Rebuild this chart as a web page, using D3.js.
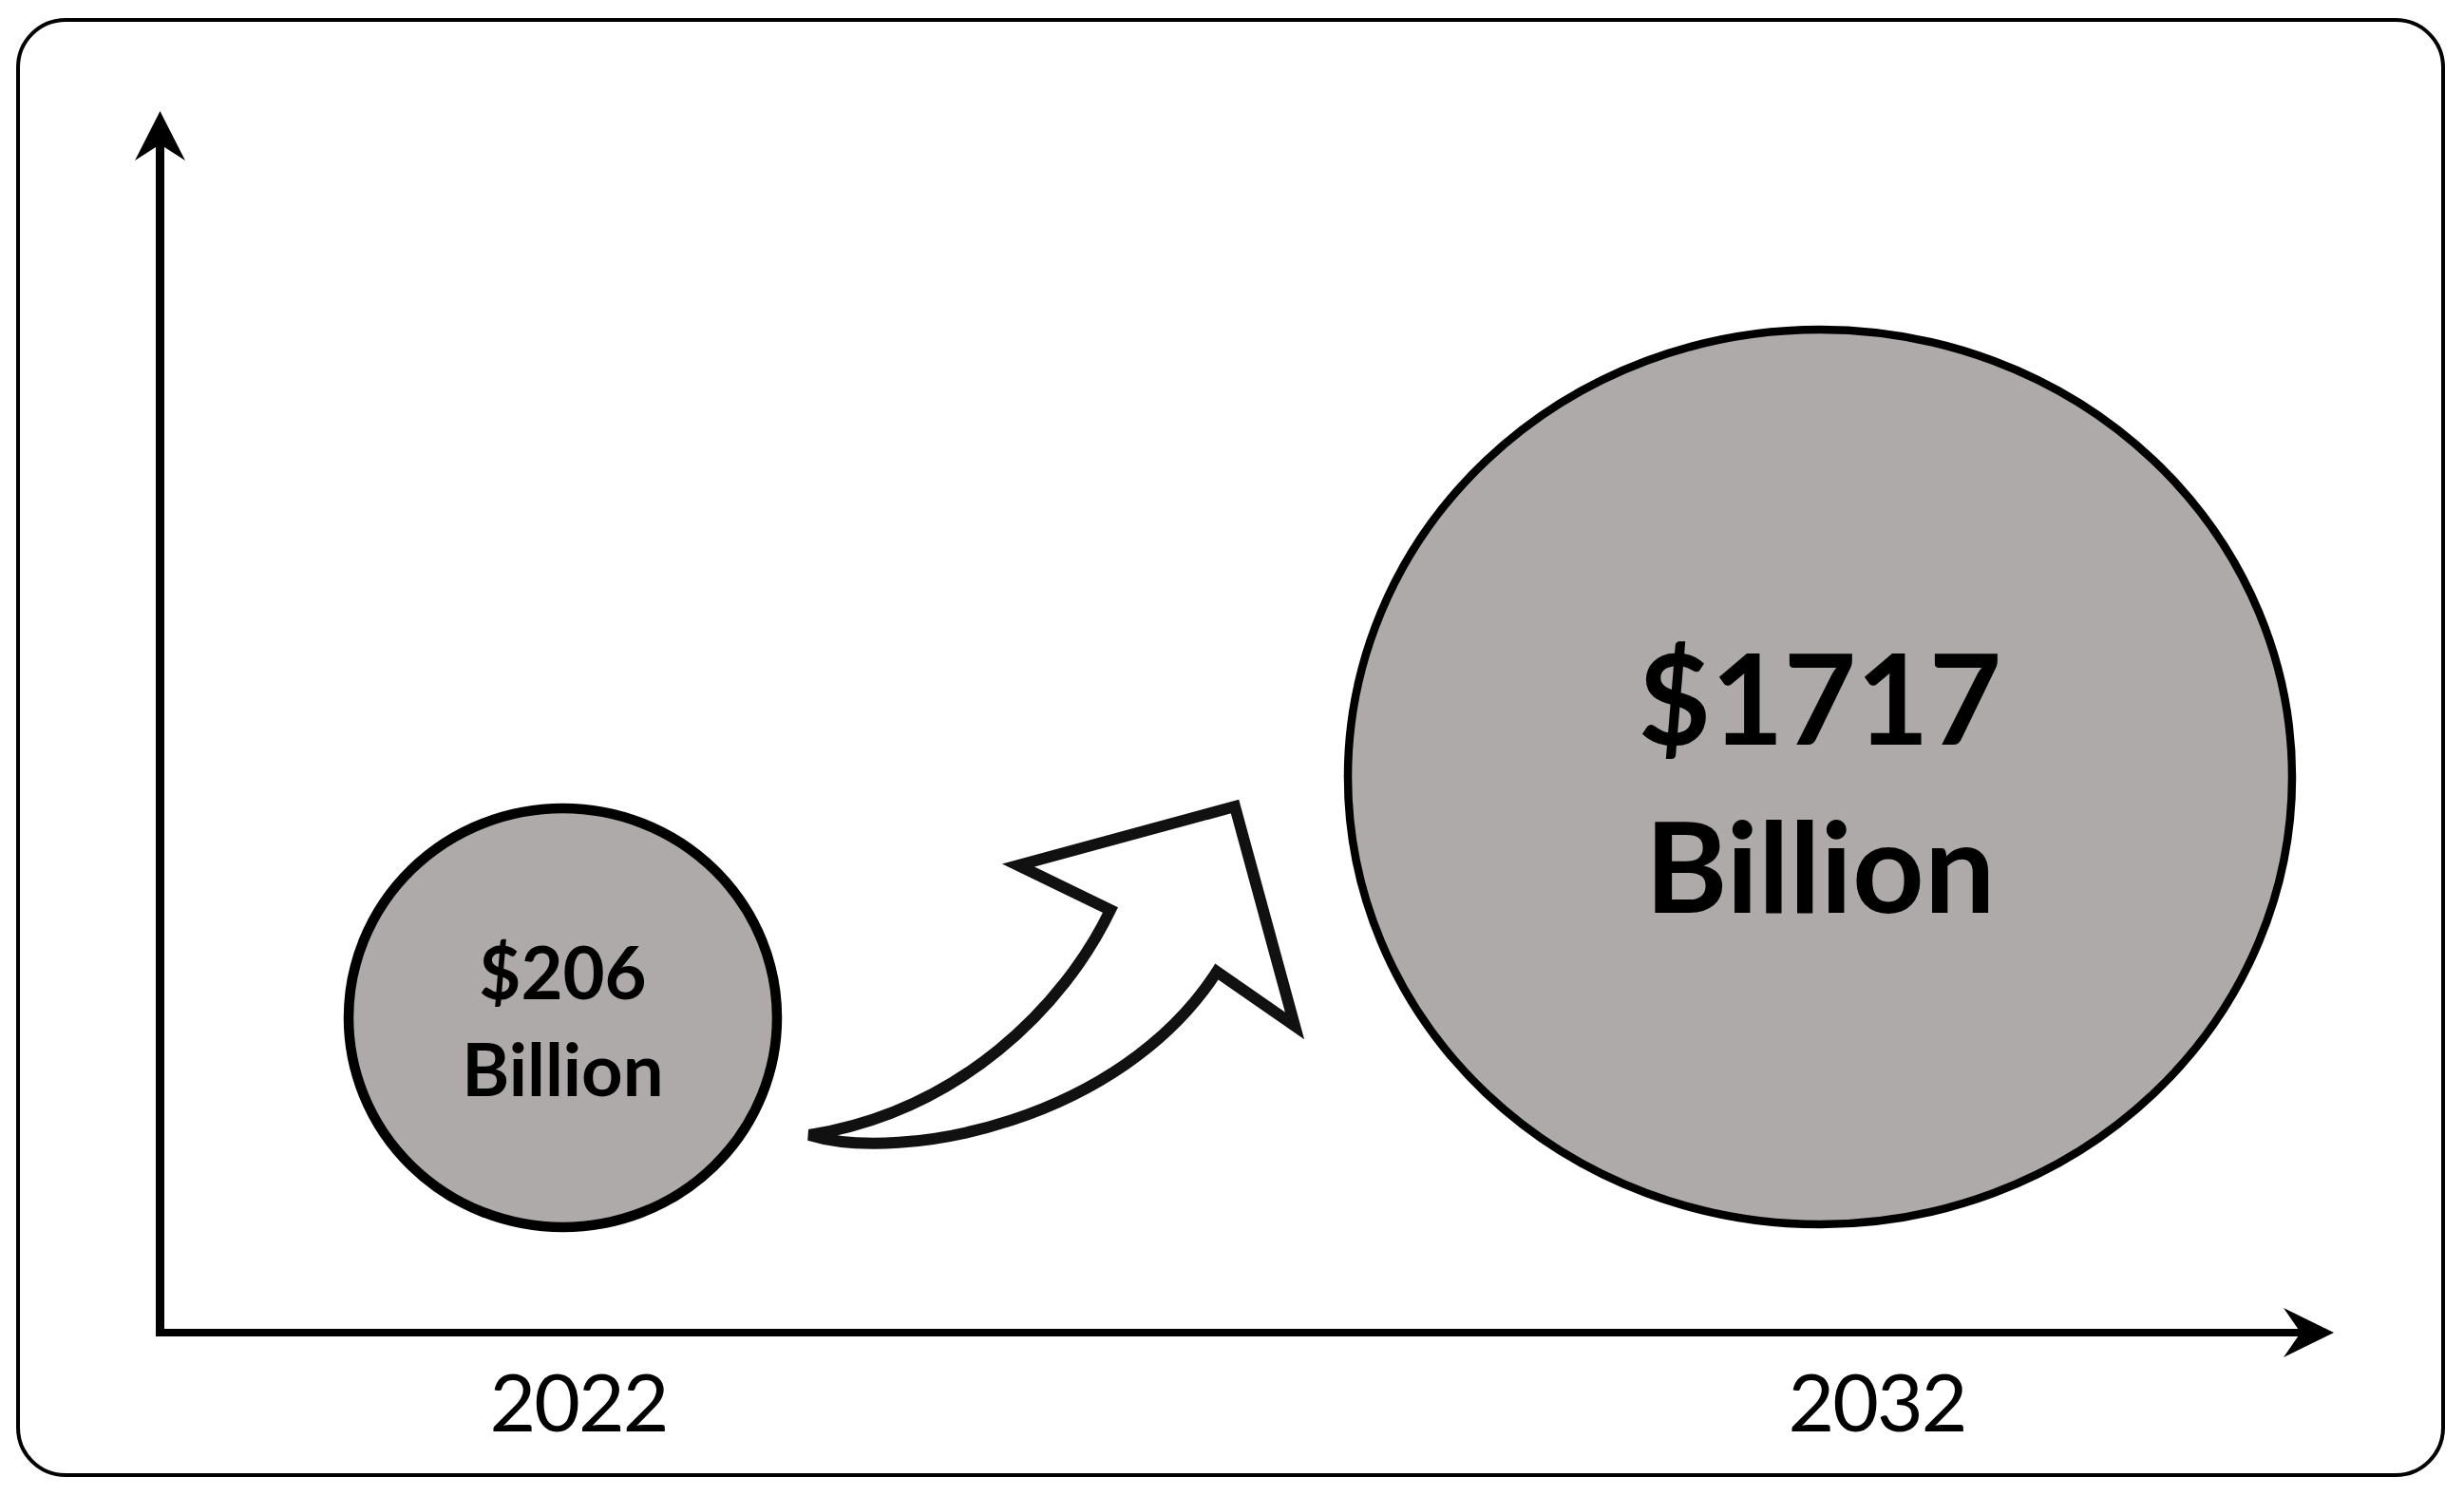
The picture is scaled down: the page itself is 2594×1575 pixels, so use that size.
<!DOCTYPE html>
<html>
<head>
<meta charset="utf-8">
<script src="https://cdn.jsdelivr.net/npm/d3@7"></script>
<style>
  html, body { margin: 0; padding: 0; background: #ffffff; }
  svg { display: block; }
</style>
</head>
<body>
<svg id="chart" width="2594" height="1575"></svg>
<script>
// ---- data ----
const years = [2022, 2032];
const values = [206, 1717];
const unitLabel = "Billion";
const yearLabels = ["2022", "2032"];

// ---- layout ----
const W = 2594, H = 1575;
const svg = d3.select("#chart");
const ink = "#000000";
const fillGrey = "#aeaaa9";
const font = "Lato, 'Open Sans', 'Noto Sans', sans-serif";

// frame
svg.append("rect")
  .attr("x", 19).attr("y", 21)
  .attr("width", 2553).attr("height", 1532)
  .attr("rx", 50).attr("ry", 50)
  .attr("fill", "#ffffff")
  .attr("stroke", ink).attr("stroke-width", 4);

// scales
const origin = { x: 168.5, y: 1403 };
const xCenter = d3.scaleLinear().domain(d3.extent(years)).range([592.5, 1916]);
const xLabel = d3.scaleLinear().domain(d3.extent(years)).range([609, 1976]);
const yCenter = d3.scaleLinear().domain(d3.extent(values)).range([1071.5, 818]);
const rxScale = d3.scaleLinear().domain(d3.extent(values)).range([225.5, 497]);
const ryScale = d3.scaleLinear().domain(d3.extent(values)).range([220.5, 471]);
const swScale = d3.scaleLinear().domain(d3.extent(values)).range([10.5, 8.5]);
const fsScale = d3.scaleLinear().domain(d3.extent(values)).range([76, 132]);

// axes
const axes = svg.append("g");
axes.append("line")
  .attr("x1", origin.x).attr("y1", origin.y + 4)
  .attr("x2", origin.x).attr("y2", 150)
  .attr("stroke", ink).attr("stroke-width", 9);
axes.append("line")
  .attr("x1", origin.x - 4.5).attr("y1", origin.y)
  .attr("x2", 2424).attr("y2", origin.y)
  .attr("stroke", ink).attr("stroke-width", 8);
// arrowheads
axes.append("path")
  .attr("d", `M${origin.x},117 L${origin.x + 26.5},169 L${origin.x},152 L${origin.x - 26.5},169 Z`)
  .attr("fill", ink);
axes.append("path")
  .attr("d", `M2457,${origin.y} L2404,${origin.y + 26} L2422,${origin.y} L2404,${origin.y - 26} Z`)
  .attr("fill", ink);

// year labels
svg.append("g").selectAll("text")
  .data(years)
  .join("text")
  .attr("x", d => xLabel(d))
  .attr("y", 1507)
  .attr("text-anchor", "middle")
  .attr("font-family", font)
  .attr("font-size", 84)
  .attr("letter-spacing", -2)
  .attr("fill", ink)
  .text((d, i) => yearLabels[i]);

// growth arrow (hollow block arrow)
svg.append("path")
  .attr("d", "M852,1195 C950,1225 1180,1180 1281,1023 L1363,1080 L1300,849 L1072,911 L1169,958 C1120,1060 1010,1170 852,1195 Z")
  .attr("fill", "#ffffff")
  .attr("stroke", "#111111")
  .attr("stroke-width", 12)
  .attr("stroke-linejoin", "miter")
  .attr("stroke-miterlimit", 3);

// bubbles
const data = years.map((y, i) => ({ year: y, value: values[i] }));
const bubbles = svg.append("g").selectAll("g")
  .data(data)
  .join("g");

bubbles.append("ellipse")
  .attr("cx", d => xCenter(d.year))
  .attr("cy", d => yCenter(d.value))
  .attr("rx", d => rxScale(d.value))
  .attr("ry", d => ryScale(d.value))
  .attr("fill", fillGrey)
  .attr("stroke", ink)
  .attr("stroke-width", d => swScale(d.value));

bubbles.append("text")
  .attr("x", d => xCenter(d.year))
  .attr("y", d => yCenter(d.value) - 0.26 * fsScale(d.value))
  .attr("text-anchor", "middle")
  .attr("font-family", font)
  .attr("font-weight", 700)
  .attr("font-size", d => fsScale(d.value))
  .attr("fill", ink)
  .text(d => "$" + d.value);

bubbles.append("text")
  .attr("x", d => xCenter(d.year))
  .attr("y", d => yCenter(d.value) + 1.08 * fsScale(d.value))
  .attr("text-anchor", "middle")
  .attr("font-family", font)
  .attr("font-weight", 700)
  .attr("font-size", d => fsScale(d.value))
  .attr("fill", ink)
  .text(unitLabel);
</script>
</body>
</html>
